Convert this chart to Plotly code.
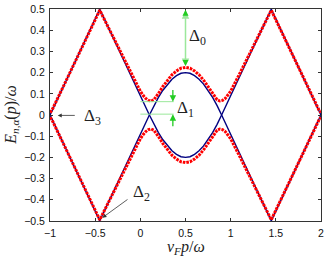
import plotly.graph_objects as go

# ---- data ----
x_red = [-1.00, -0.98, -0.45, -0.20, -0.10, 0.00, 0.03, 0.06, 0.09, 0.12, 0.15, 0.18, 0.21, 0.25,
         0.30, 0.35, 0.40, 0.45, 0.50, 0.55, 0.60, 0.65, 0.70, 0.75, 0.79, 0.82, 0.85, 0.88,
         0.91, 0.94, 0.97, 1.00, 1.10, 1.20, 1.45, 1.98, 2.00]
y_red_upper = [0.012, 0.022, 0.495, 0.280, 0.195, 0.112, 0.093, 0.078, 0.069, 0.066, 0.072, 0.088,
               0.108, 0.135, 0.165, 0.190, 0.208, 0.221, 0.225, 0.221, 0.208, 0.190, 0.165, 0.135,
               0.108, 0.088, 0.072, 0.066, 0.069, 0.078, 0.093, 0.112, 0.195, 0.280, 0.495, 0.022, 0.012]
y_red_lower = [-0.012, -0.022, -0.495, -0.280, -0.195, -0.112, -0.093, -0.078, -0.069, -0.066, -0.072,
               -0.088, -0.108, -0.135, -0.165, -0.190, -0.208, -0.221, -0.225, -0.221, -0.208, -0.190,
               -0.165, -0.135, -0.108, -0.088, -0.072, -0.066, -0.069, -0.078, -0.093, -0.112, -0.195,
               -0.280, -0.495, -0.022, -0.012]

x_blue = [-1.00, -0.45, 0.10, 0.15, 0.20, 0.25, 0.30, 0.35, 0.40, 0.45, 0.50, 0.55, 0.60, 0.65,
          0.70, 0.75, 0.80, 0.85, 0.90, 1.45, 2.00]
y_blue_a = [0.0, -0.5, 0.0, 0.044, 0.083, 0.117, 0.146, 0.169, 0.186, 0.197, 0.200, 0.197, 0.186,
            0.169, 0.146, 0.117, 0.083, 0.044, 0.0, -0.5, 0.0]
y_blue_b = [0.0, 0.5, 0.0, -0.044, -0.083, -0.117, -0.146, -0.169, -0.186, -0.197, -0.200, -0.197,
            -0.186, -0.169, -0.146, -0.117, -0.083, -0.044, 0.0, 0.5, 0.0]

x_ticks = [-1, -0.5, 0, 0.5, 1, 1.5, 2]
x_ticklabels = ["\u22121", "\u22120.5", "0", "0.5", "1", "1.5", "2"]
y_ticks = [-0.5, -0.4, -0.3, -0.2, -0.1, 0, 0.1, 0.2, 0.3, 0.4, 0.5]
y_ticklabels = ["\u22120.5", "\u22120.4", "\u22120.3", "\u22120.2", "\u22120.1", "0",
                "0.1", "0.2", "0.3", "0.4", "0.5"]

BLUE = "#000080"
RED = "#ff0000"
GREEN_LINE = "#9be89b"
GREEN_HEAD = "#22cc22"
SERIF = "Liberation Serif, DejaVu Serif, serif"
SANS = "Liberation Sans, Arial, sans-serif"

fig = go.Figure()
for yb in (y_blue_a, y_blue_b):
    fig.add_trace(go.Scatter(x=x_blue, y=yb, mode="lines",
                             line=dict(color=BLUE, width=1.4), hoverinfo="skip"))
for yr in (y_red_upper, y_red_lower):
    fig.add_trace(go.Scatter(x=x_red, y=yr, mode="lines",
                             line=dict(color=RED, width=3.0, dash="2.6px,1px"), hoverinfo="skip"))

# green guide lines for Delta_1
shapes = [
    dict(type="line", x0=0.0, x1=0.37, y0=0.063, y1=0.063, xref="x", yref="y",
         line=dict(color=GREEN_LINE, width=1)),
    dict(type="line", x0=0.0, x1=0.37, y0=0.004, y1=0.004, xref="x", yref="y",
         line=dict(color=GREEN_LINE, width=1)),
]

annos = []
# Delta_0 double arrow
annos.append(dict(x=0.5, y=0.232, ax=0.5, ay=0.497, xref="x", yref="y", axref="x", ayref="y",
                  text="", showarrow=True, arrowhead=2, arrowside="end+start", arrowsize=1,
                  arrowwidth=1.5, arrowcolor=GREEN_LINE, standoff=0, startstandoff=0))
annos.append(dict(x=0.5, y=0.232, ax=0.5, ay=0.26, xref="x", yref="y", axref="x", ayref="y",
                  text="", showarrow=True, arrowhead=2, arrowsize=1, arrowwidth=1.2,
                  arrowcolor=GREEN_HEAD))
annos.append(dict(x=0.5, y=0.497, ax=0.5, ay=0.47, xref="x", yref="y", axref="x", ayref="y",
                  text="", showarrow=True, arrowhead=2, arrowsize=1, arrowwidth=1.2,
                  arrowcolor=GREEN_HEAD))
# Delta_1 arrows
annos.append(dict(x=0.36, y=0.063, ax=0.36, ay=0.125, xref="x", yref="y", axref="x", ayref="y",
                  text="", showarrow=True, arrowhead=2, arrowsize=1, arrowwidth=1.3,
                  arrowcolor=GREEN_HEAD))
annos.append(dict(x=0.36, y=0.004, ax=0.36, ay=-0.06, xref="x", yref="y", axref="x", ayref="y",
                  text="", showarrow=True, arrowhead=2, arrowsize=1, arrowwidth=1.3,
                  arrowcolor=GREEN_HEAD))
# Delta_3 arrow
annos.append(dict(x=-0.915, y=-0.002, ax=-0.71, ay=-0.002, xref="x", yref="y", axref="x", ayref="y",
                  text="", showarrow=True, arrowhead=2, arrowsize=1, arrowwidth=0.8,
                  arrowcolor="#333333"))
# Delta_2 arrow
annos.append(dict(x=-0.42, y=-0.485, ax=-0.126, ay=-0.394, xref="x", yref="y", axref="x", ayref="y",
                  text="", showarrow=True, arrowhead=2, arrowsize=1, arrowwidth=0.8,
                  arrowcolor="#333333"))

lab_font = dict(family=SERIF, size=17, color="#222222")
annos.append(dict(x=0.515, y=0.37, xref="x", yref="y", text="\u0394<sub>0</sub>", showarrow=False,
                  xanchor="left", yanchor="middle", font=lab_font))
annos.append(dict(x=0.385, y=0.03, xref="x", yref="y", text="\u0394<sub>1</sub>", showarrow=False,
                  xanchor="left", yanchor="middle", font=lab_font))
annos.append(dict(x=-0.645, y=-0.008, xref="x", yref="y", text="\u0394<sub>3</sub>", showarrow=False,
                  xanchor="left", yanchor="middle", font=lab_font))
annos.append(dict(x=-0.105, y=-0.37, xref="x", yref="y", text="\u0394<sub>2</sub>", showarrow=False,
                  xanchor="left", yanchor="middle", font=lab_font))

# axis titles
annos.append(dict(x=0.5, y=-0.127, xref="paper", yref="paper",
                  text="<i>v<sub>F</sub>p</i>/<i>\u03c9</i>", showarrow=False,
                  xanchor="center", yanchor="middle", font=dict(family=SERIF, size=16, color="#222222")))
annos.append(dict(x=-0.145, y=0.5, xref="paper", yref="paper",
                  text="<i>E</i><sub><i>n</i>,<i>\u03b1</i></sub>(<i>p</i>)/<i>\u03c9</i>",
                  showarrow=False, textangle=-90, xanchor="center", yanchor="middle",
                  font=dict(family=SERIF, size=16, color="#222222")))

axis_common = dict(showgrid=False, zeroline=False, showline=True, linecolor="#333333", linewidth=1,
                   mirror="ticks", ticks="inside", ticklen=3, tickcolor="#333333", tickwidth=1,
                   tickfont=dict(family=SANS, size=10.5, color="#111111"))

fig.update_layout(
    width=327, height=258,
    margin=dict(l=50, r=3, t=6, b=37),
    plot_bgcolor="white", paper_bgcolor="white",
    showlegend=False,
    xaxis=dict(range=[-1.001, 2.001], tickvals=x_ticks, ticktext=x_ticklabels, ticklabelstandoff=2, **axis_common),
    yaxis=dict(range=[-0.5008, 0.5008], tickvals=y_ticks, ticktext=y_ticklabels, ticklabelstandoff=2,
               ticklabeloverflow="allow", **axis_common),
    shapes=shapes,
    annotations=annos,
)

fig.write_html("out.html", config={"displayModeBar": False},
               post_script="document.body.style.margin='0';document.body.style.overflow='hidden';")
